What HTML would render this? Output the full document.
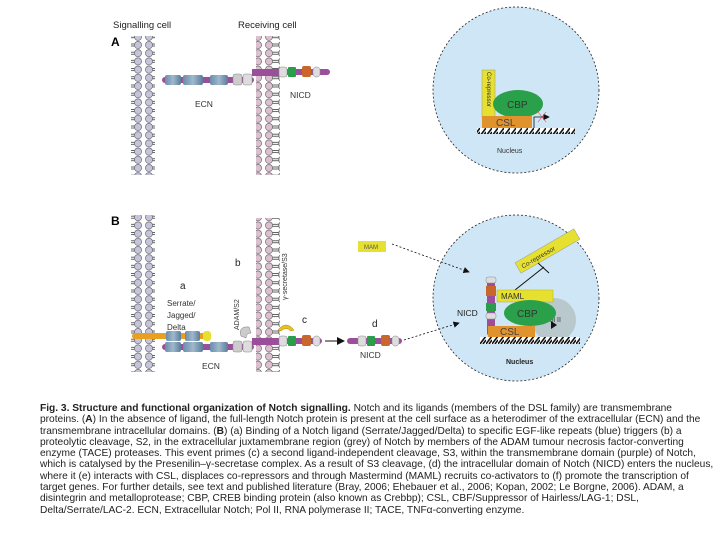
<!DOCTYPE html>
<html><head><meta charset="utf-8"><style>
html,body{margin:0;padding:0;background:#fff;width:720px;height:540px;overflow:hidden}
svg{position:absolute;left:0;top:0}
.cap{position:absolute;left:40px;top:403px;font-family:"Liberation Sans",sans-serif;font-size:10.2px;line-height:11.3px;color:#222}
.cap div{white-space:nowrap}
</style></head><body>
<svg width="720" height="400" viewBox="0 0 720 400" font-family="Liberation Sans, sans-serif">
<defs>
<pattern id="memS" width="24" height="8.2" patternUnits="userSpaceOnUse">
<circle cx="5" cy="4" r="3.6" fill="#c4c4dc" stroke="#555" stroke-width="0.6"/>
<circle cx="18" cy="4" r="3.6" fill="#c4c4dc" stroke="#555" stroke-width="0.6"/>
<line x1="8.6" y1="3" x2="14.4" y2="3" stroke="#222" stroke-width="0.7"/>
<line x1="8.6" y1="5" x2="14.4" y2="5" stroke="#222" stroke-width="0.7"/>
</pattern>
<pattern id="memR" width="24" height="8.2" patternUnits="userSpaceOnUse">
<circle cx="5" cy="4" r="3.6" fill="#dcc0d0" stroke="#555" stroke-width="0.6"/>
<circle cx="18" cy="4" r="3.6" fill="#dcc0d0" stroke="#555" stroke-width="0.6"/>
<line x1="8.6" y1="3" x2="14.4" y2="3" stroke="#222" stroke-width="0.7"/>
<line x1="8.6" y1="5" x2="14.4" y2="5" stroke="#222" stroke-width="0.7"/>
</pattern>
<pattern id="dna" width="6" height="8" patternUnits="userSpaceOnUse">
<rect width="6" height="8" fill="#fff"/>
<path d="M0 8 L6 0 M3 8 L6 4" stroke="#111" stroke-width="1.6"/>
</pattern>
<linearGradient id="egf" x1="0" x2="1">
<stop offset="0" stop-color="#6a8caa"/><stop offset="0.5" stop-color="#9fb8cc"/><stop offset="1" stop-color="#5a7c9a"/></linearGradient>
<marker id="ah" markerWidth="8" markerHeight="8" refX="7" refY="4" orient="auto"><path d="M0 0 L8 4 L0 8z" fill="#111"/></marker>
</defs>

<text x="113" y="28" font-size="9.5" fill="#222">Signalling cell</text>
<text x="238" y="28" font-size="9.5" fill="#222">Receiving cell</text>
<text x="111" y="46" font-size="12" font-weight="bold">A</text>
<text x="111" y="225" font-size="12" font-weight="bold">B</text>

<rect x="131" y="36" width="24" height="139" fill="url(#memS)"/>
<rect x="256" y="36" width="24" height="139" fill="url(#memR)"/>
<rect x="131" y="215" width="24" height="157" fill="url(#memS)"/>
<rect x="256" y="218" width="24" height="154" fill="url(#memR)"/>

<g>
<rect x="162" y="77" width="92" height="6" rx="3" fill="#9b4f9b"/>
<rect x="165" y="75" width="16" height="10" rx="2" fill="url(#egf)"/>
<rect x="183" y="75" width="20" height="10" rx="2" fill="url(#egf)"/>
<rect x="210" y="75" width="18" height="10" rx="2" fill="url(#egf)"/>
<rect x="233" y="74" width="9" height="11" rx="2" fill="#ccc" stroke="#888" stroke-width=".5"/>
<rect x="243" y="74" width="9" height="11" rx="2" fill="#ddd" stroke="#888" stroke-width=".5"/>
<rect x="252" y="69" width="30" height="7" fill="#9b4f9b"/>
<rect x="280" y="69" width="50" height="6" rx="3" fill="#9b4f9b"/>
<rect x="279" y="67" width="8" height="10" rx="2" fill="#ddd" stroke="#888" stroke-width=".5"/>
<rect x="288" y="67" width="8" height="10" rx="1" fill="#2a9d4a"/>
<rect x="302" y="66" width="9" height="11" rx="2" fill="#c8662c"/>
<rect x="313" y="67" width="7" height="10" rx="3" fill="#ddd" stroke="#888" stroke-width=".5"/>
</g>
<text x="195" y="107" font-size="8.5" fill="#333">ECN</text>
<text x="290" y="98" font-size="8.5" fill="#333">NICD</text>

<circle cx="516" cy="90" r="83" fill="#cfe6f7" stroke="#222" stroke-width="0.8" stroke-dasharray="2,2"/>
<rect x="482" y="70" width="13" height="48" fill="#e6e030" stroke="#999" stroke-width=".5"/>
<text transform="translate(487,72) rotate(90)" font-size="6" fill="#333">Co-repressor</text>
<ellipse cx="518" cy="104" rx="25" ry="14" fill="#2aa04a"/>
<text x="507" y="108" font-size="10" fill="#333">CBP</text>
<rect x="482" y="116" width="50" height="12" fill="#e0922c"/>
<text x="496" y="126" font-size="10" fill="#444">CSL</text>
<path d="M534 128 V117 H549" stroke="#111" fill="none" stroke-width="0.8" marker-end="url(#ah)"/>
<path d="M538 112 L546 122 M546 112 L538 122" stroke="#e33" stroke-width="0.6"/>
<rect x="477" y="128" width="98" height="6" fill="url(#dna)"/>
<text x="497" y="153" font-size="7" fill="#333">Nucleus</text>

<rect x="132" y="333" width="78" height="6" rx="3" fill="#e8a020"/>
<rect x="166" y="331" width="15" height="10" rx="2" fill="url(#egf)"/>
<rect x="185" y="331" width="15" height="10" rx="2" fill="url(#egf)"/>
<rect x="203" y="331" width="8" height="10" rx="3" fill="#e6e030"/>
<rect x="162" y="344" width="92" height="6" rx="3" fill="#9b4f9b"/>
<rect x="165" y="342" width="16" height="10" rx="2" fill="url(#egf)"/>
<rect x="183" y="342" width="20" height="10" rx="2" fill="url(#egf)"/>
<rect x="210" y="342" width="18" height="10" rx="2" fill="url(#egf)"/>
<rect x="233" y="341" width="9" height="11" rx="2" fill="#ccc" stroke="#888" stroke-width=".5"/>
<rect x="243" y="341" width="9" height="11" rx="2" fill="#ddd" stroke="#888" stroke-width=".5"/>
<rect x="252" y="338" width="30" height="7" fill="#9b4f9b"/>
<rect x="280" y="338" width="42" height="6" rx="3" fill="#9b4f9b"/>
<rect x="279" y="336" width="8" height="10" rx="2" fill="#ddd" stroke="#888" stroke-width=".5"/>
<rect x="288" y="336" width="8" height="10" rx="1" fill="#2a9d4a"/>
<rect x="302" y="335" width="9" height="11" rx="2" fill="#c8662c"/>
<rect x="313" y="336" width="7" height="10" rx="3" fill="#ddd" stroke="#888" stroke-width=".5"/>
<path d="M241 336 q-3 -10 8 -9 l2 6 q-5 0 -5 5z" fill="#ccc" stroke="#777" stroke-width=".5"/>
<path d="M278 330 q8 -10 16 0 l-3 1 q-5 -5 -10 0z" fill="#e8c020" stroke="#a80" stroke-width=".5"/>
<text x="202" y="369" font-size="8.5" fill="#333">ECN</text>
<text x="167" y="306" font-size="8" fill="#333">Serrate/</text>
<text x="167" y="318" font-size="8" fill="#333">Jagged/</text>
<text x="167" y="330" font-size="8" fill="#333">Delta</text>
<text x="180" y="289" font-size="10" fill="#222">a</text>
<text x="235" y="266" font-size="10" fill="#222">b</text>
<text x="302" y="323" font-size="10" fill="#222">c</text>
<text x="372" y="327" font-size="10" fill="#222">d</text>
<text x="509" y="276" font-size="10" fill="#222">e</text>
<text x="570" y="290" font-size="10" fill="#222">f</text>
<text transform="translate(239,330) rotate(-90)" font-size="7" fill="#333">ADAM/S2</text>
<text transform="translate(287,300) rotate(-90)" font-size="7" fill="#333">γ-secretase/S3</text>
<line x1="325" y1="341" x2="344" y2="341" stroke="#111" stroke-width="1" marker-end="url(#ah)"/>
<rect x="347" y="338" width="55" height="6" rx="3" fill="#9b4f9b"/>
<rect x="358" y="336" width="8" height="10" rx="2" fill="#ddd" stroke="#888" stroke-width=".5"/>
<rect x="367" y="336" width="8" height="10" rx="1" fill="#2a9d4a"/>
<rect x="381" y="335" width="9" height="11" rx="2" fill="#c8662c"/>
<rect x="392" y="336" width="7" height="10" rx="3" fill="#ddd" stroke="#888" stroke-width=".5"/>
<text x="360" y="358" font-size="8.5" fill="#333">NICD</text>
<rect x="358" y="241" width="28" height="11" fill="#e6e030"/>
<text x="364" y="249" font-size="6" fill="#555">MAM</text>

<circle cx="516" cy="298" r="83" fill="#cfe6f7" stroke="#222" stroke-width="0.8" stroke-dasharray="2,2"/>
<path d="M392 244 L469 272" stroke="#111" stroke-width="0.8" stroke-dasharray="2,2" marker-end="url(#ah)"/>
<path d="M404 340 L459 323" stroke="#111" stroke-width="0.8" stroke-dasharray="2,2" marker-end="url(#ah)"/>
<g transform="translate(518,268) rotate(-30)">
<rect x="0" y="-6" width="68" height="12" fill="#e6e030" stroke="#999" stroke-width=".5"/>
<text x="4" y="3" font-size="6.5" fill="#333">Co-repressor</text>
</g>
<path d="M515 290 L544 267 M538 263 L549 273" stroke="#111" stroke-width="1"/>
<rect x="487" y="280" width="8" height="56" rx="3" fill="#9b4f9b"/>
<rect x="486" y="277" width="10" height="6" rx="2" fill="#ddd" stroke="#888" stroke-width=".5"/>
<rect x="486" y="286" width="10" height="10" fill="#c8662c"/>
<rect x="486" y="303" width="10" height="8" fill="#2a9d4a"/>
<rect x="486" y="313" width="10" height="6" rx="2" fill="#ddd" stroke="#888" stroke-width=".5"/>
<circle cx="554" cy="320" r="22" fill="#b8c8cc"/>
<text x="545" y="322" font-size="7" fill="#333">Pol II</text>
<path d="M551 321 l0 8 l6 -4z" fill="#111"/>
<rect x="497" y="290" width="56" height="12" fill="#e6e030" stroke="#aa0" stroke-width=".4"/>
<text x="501" y="299" font-size="8" fill="#333">MAML</text>
<ellipse cx="530" cy="313" rx="26" ry="13" fill="#2aa04a"/>
<text x="517" y="317" font-size="10" fill="#333">CBP</text>
<rect x="488" y="326" width="47" height="11" fill="#e0922c"/>
<text x="500" y="335" font-size="10" fill="#444">CSL</text>
<rect x="480" y="337" width="100" height="7" fill="url(#dna)"/>
<text x="457" y="316" font-size="8.5" fill="#222">NICD</text>
<text x="506" y="364" font-size="7" fill="#222" font-weight="bold">Nucleus</text>
</svg>
<div class="cap">
<div><b>Fig. 3. Structure and functional organization of Notch signalling.</b> Notch and its ligands (members of the DSL family) are transmembrane</div>
<div>proteins. (<b>A</b>) In the absence of ligand, the full-length Notch protein is present at the cell surface as a heterodimer of the extracellular (ECN) and the</div>
<div>transmembrane intracellular domains. (<b>B</b>) (a) Binding of a Notch ligand (Serrate/Jagged/Delta) to specific EGF-like repeats (blue) triggers (b) a</div>
<div>proteolytic cleavage, S2, in the extracellular juxtamembrane region (grey) of Notch by members of the ADAM tumour necrosis factor-converting</div>
<div>enzyme (TACE) proteases. This event primes (c) a second ligand-independent cleavage, S3, within the transmembrane domain (purple) of Notch,</div>
<div>which is catalysed by the Presenilin–γ-secretase complex. As a result of S3 cleavage, (d) the intracellular domain of Notch (NICD) enters the nucleus,</div>
<div>where it (e) interacts with CSL, displaces co-repressors and through Mastermind (MAML) recruits co-activators to (f) promote the transcription of</div>
<div>target genes. For further details, see text and published literature (Bray, 2006; Ehebauer et al., 2006; Kopan, 2002; Le Borgne, 2006). ADAM, a</div>
<div>disintegrin and metalloprotease; CBP, CREB binding protein (also known as Crebbp); CSL, CBF/Suppressor of Hairless/LAG-1; DSL,</div>
<div>Delta/Serrate/LAC-2. ECN, Extracellular Notch; Pol II, RNA polymerase II; TACE, TNFα-converting enzyme.</div>
</div>
</body></html>
